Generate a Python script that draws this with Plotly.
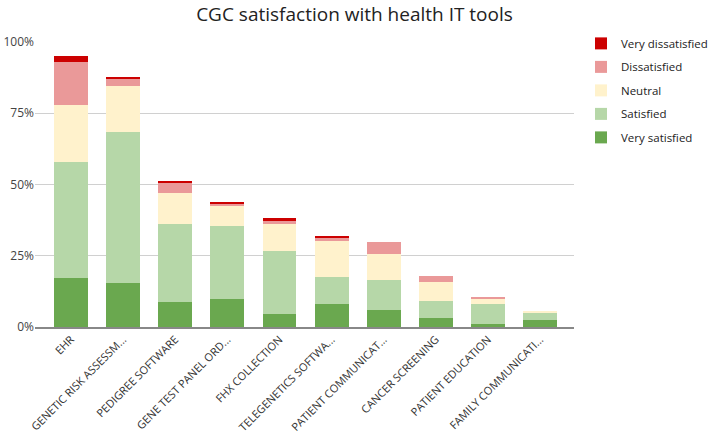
import plotly.graph_objects as go

categories = ["EHR", "GENETIC RISK ASSESSM...", "PEDIGREE SOFTWARE", "GENE TEST PANEL ORD...",
              "FHX COLLECTION", "TELEGENETICS SOFTWA...", "PATIENT COMMUNICAT...",
              "CANCER SCREENING", "PATIENT EDUCATION", "FAMILY COMMUNICATI..."]
very_satisfied = [17.3, 15.4, 8.9, 9.7, 4.6, 8.2, 5.8, 3.2, 0.9, 2.4]
satisfied = [40.7, 53.0, 27.1, 25.8, 21.9, 9.5, 10.7, 6.0, 7.3, 2.6]
neutral = [19.9, 16.0, 11.0, 7.0, 9.5, 12.5, 9.1, 6.6, 1.5, 0.7]
dissatisfied = [15.0, 2.7, 3.4, 0.5, 1.3, 0.9, 4.3, 2.2, 0.7, 0.0]
very_dissatisfied = [2.2, 0.7, 0.8, 0.9, 0.9, 1.0, 0.0, 0.0, 0.0, 0.0]

series = [
    ("Very satisfied", very_satisfied, "#6aa84f"),
    ("Satisfied", satisfied, "#b6d7a8"),
    ("Neutral", neutral, "#fff2cc"),
    ("Dissatisfied", dissatisfied, "#ea9999"),
    ("Very dissatisfied", very_dissatisfied, "#cc0000"),
]

FONT = "Open Sans"
fig = go.Figure()
for i, (name, vals, color) in enumerate(series):
    fig.add_trace(go.Bar(
        x=list(range(len(categories))), y=[v / 100 for v in vals], name=name,
        marker=dict(color=color, line=dict(width=0)), width=0.65,
        legendgroup=name, legendrank=len(series) - i,
    ))

fig.update_layout(
    barmode="stack",
    width=709, height=435,
    margin=dict(l=35, r=135, t=42, b=108, autoexpand=False),
    paper_bgcolor="white", plot_bgcolor="white",
    title=dict(text="CGC satisfaction with health IT tools", x=0.5, xanchor="center",
               y=0.966, yanchor="middle", font=dict(family=FONT, size=19, color="#222222")),
    font=dict(family=FONT, size=11, color="#444444"),
    legend=dict(x=1.013, xanchor="left", y=1.046, yanchor="top", traceorder="grouped",
                font=dict(family=FONT, size=11.5, color="#222222"), tracegroupgap=4.5,
                itemwidth=30),
    xaxis=dict(tickmode="array", tickvals=list(range(len(categories))), ticktext=categories,
               tickangle=-45, range=[-0.69, 9.65], showgrid=False, showline=True,
               linecolor="#888888", linewidth=1.5, ticks="", automargin=False,
               tickfont=dict(size=11, color="#333333")),
    yaxis=dict(range=[0, 1.0], tickvals=[0, 0.25, 0.5, 0.75, 1.0], tickformat=".0%",
               showgrid=True, gridcolor="#d0d0d0", gridwidth=1, zeroline=False,
               ticks="", automargin=False, tickfont=dict(size=12, color="#444444")),
)

fig.write_html("out.html", config={"displayModeBar": False},
               post_script="document.body.style.margin='0';")
